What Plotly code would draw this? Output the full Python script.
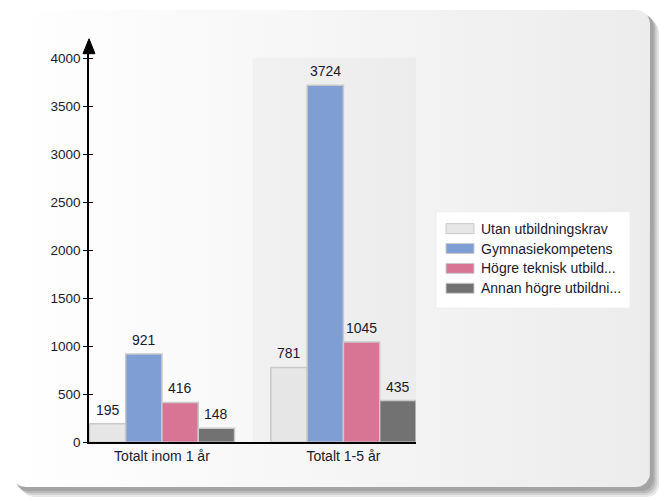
import numpy as np
import plotly.graph_objects as go

# ---- data -------------------------------------------------------------
categories = ["Totalt inom 1 år", "Totalt 1-5 år"]
series_names = [
    "Utan utbildningskrav",
    "Gymnasiekompetens",
    "Högre teknisk utbild...",
    "Annan högre utbildni...",
]
utan_utbildningskrav = [195, 781]
gymnasiekompetens = [921, 3724]
hogre_teknisk = [416, 1045]
annan_hogre = [148, 435]
series_values = [utan_utbildningskrav, gymnasiekompetens, hogre_teknisk, annan_hogre]
y_tick_values = [0, 500, 1000, 1500, 2000, 2500, 3000, 3500, 4000]

# ---- styling ----------------------------------------------------------
W = 665
FIG_H = 508          # figure height
H = 501              # layout frame used for placing decorations
FONT = "Liberation Sans, Arial, sans-serif"
TEXT = "#1a1a2e"
bar_colors = ["#e6e6e6", "#7f9fd4", "#d97594", "#727272"]
edge_color = "#c9c9c9"

# plot area in frame units
PL, PR, PT, PB = 89, 416, 52, 443
Y_TOP = 4000 * (PB - PT) / (PB - 57)     # axis runs a little past 4000 for the arrow
X_RANGE = [-0.402, 1.40]
BARGAP = 0.2
BAR_W = (1 - BARGAP) / len(series_values)


def rr_points(x0, y0, x1, y1, r, n=10):
    """Outline of a rounded rectangle as point lists."""
    xs, ys = [], []
    corners = [
        (x1 - r, y0 + r, -90, 0),
        (x1 - r, y1 - r, 0, 90),
        (x0 + r, y1 - r, 90, 180),
        (x0 + r, y0 + r, 180, 270),
    ]
    for cx, cy, a0, a1 in corners:
        for a in np.linspace(np.radians(a0), np.radians(a1), n):
            xs.append(cx + r * np.cos(a))
            ys.append(cy + r * np.sin(a))
    xs.append(xs[0])
    ys.append(ys[0])
    return xs, ys


def rr_path(x0, y0, x1, y1, r):
    return (f"M{x0+r},{y0} L{x1-r},{y0} Q{x1},{y0} {x1},{y0+r} "
            f"L{x1},{y1-r} Q{x1},{y1} {x1-r},{y1} L{x0+r},{y1} "
            f"Q{x0},{y1} {x0},{y1-r} L{x0},{y0+r} Q{x0},{y0} {x0+r},{y0} Z")


fig = go.Figure()

# background card with a soft horizontal gradient
px_, py_ = rr_points(12, 8, 650, 488, 14)
fig.add_trace(go.Scatter(
    x=px_, y=py_, mode="lines", fill="toself", line=dict(width=0),
    fillgradient=dict(type="horizontal",
                      colorscale=[[0, "#ffffff"], [1, "#ececec"]]),
    hoverinfo="skip", showlegend=False, xaxis="x", yaxis="y",
))

# grouped bars
for name, vals, col in zip(series_names, series_values, bar_colors):
    fig.add_trace(go.Bar(
        name=name, x=categories, y=vals,
        marker=dict(color=col, line=dict(color=edge_color, width=1.5)),
        showlegend=False, xaxis="x2", yaxis="y2",
    ))

# helper trace so the inner tick axis is drawn
fig.add_trace(go.Scatter(x=[], y=[], xaxis="x2", yaxis="y3",
                         showlegend=False, hoverinfo="skip"))

annotations = []
# value labels above each bar
for s, vals in enumerate(series_values):
    offset = (s - (len(series_values) - 1) / 2) * BAR_W
    for c, v in enumerate(vals):
        annotations.append(dict(
            x=c + offset, y=v, xref="x2", yref="y2", text=str(v), showarrow=False,
            xanchor="center", yanchor="bottom", yshift=4,
            font=dict(family=FONT, size=14, color=TEXT)))

shapes = []
# card shadow
for off, col in [(10, "#e6e6e6"), (8, "#d0d0d0"), (6, "#b8b8b8"), (4, "#a4a4a4")]:
    shapes.append(dict(type="path", path=rr_path(12 + off, 8 + off, 650 + off * 0.9, 488 + off, 14),
                       xref="x", yref="y", fillcolor=col, line=dict(width=0), layer="below"))

# shaded band behind the second category
shapes.append(dict(type="rect", xref="x2", yref="y2", x0=0.5, x1=1.6, y0=0, y1=4010,
                   fillcolor="rgba(0,0,0,0.028)", line=dict(width=0), layer="below"))

# arrow head on the value axis
shapes.append(dict(type="path", xref="x", yref="y",
                   path=f"M{PL-6},{PT} L{PL+6},{PT} L{PL},{PT-15} Z",
                   fillcolor="black", line=dict(color="black", width=1)))

# legend box
LX0, LY0, LX1, LY1 = 436, 211, 630, 308
shapes.append(dict(type="rect", xref="x", yref="y", x0=LX0, y0=LY0, x1=LX1, y1=LY1,
                   fillcolor="white", line=dict(color="#eeeeee", width=1)))
for i, (name, col) in enumerate(zip(series_names, bar_colors)):
    cy = 228 + 20 * i
    shapes.append(dict(type="rect", xref="x", yref="y", x0=446, x1=474, y0=cy - 5, y1=cy + 5,
                       fillcolor=col, line=dict(color=edge_color, width=1)))
    annotations.append(dict(x=479, y=cy, xref="x", yref="y", text=name, showarrow=False,
                            xanchor="left", yanchor="middle",
                            font=dict(family=FONT, size=14, color=TEXT)))

fig.update_layout(
    width=W, height=FIG_H, autosize=False, margin=dict(l=0, r=0, t=0, b=0),
    paper_bgcolor="white", plot_bgcolor="rgba(0,0,0,0)",
    barmode="group", bargap=BARGAP, bargroupgap=0,
    shapes=shapes, annotations=annotations, showlegend=False,
    xaxis=dict(domain=[0, 1], range=[0, W], visible=False, fixedrange=True),
    yaxis=dict(domain=[0, 1], range=[H, 0], visible=False, fixedrange=True),
    xaxis2=dict(domain=[PL / W, PR / W], range=X_RANGE, anchor="y2",
                showline=True, linecolor="black", linewidth=1.5,
                showgrid=False, ticks="",
                tickfont=dict(family=FONT, size=14, color=TEXT)),
    yaxis2=dict(domain=[(H - PB) / H, (H - PT) / H], range=[0, Y_TOP], anchor="x2",
                showline=True, linecolor="black", linewidth=1.5,
                showgrid=False, zeroline=False,
                tickmode="array", tickvals=y_tick_values,
                ticks="outside", ticklen=4, tickwidth=1, tickcolor="black",
                tickfont=dict(family=FONT, size=13.5, color=TEXT)),
    yaxis3=dict(overlaying="y2", anchor="x2", range=[0, Y_TOP],
                tickmode="array", tickvals=y_tick_values,
                ticks="inside", ticklen=4, tickwidth=1, tickcolor="black",
                showticklabels=False, showgrid=False, zeroline=False, showline=False),
)

fig.write_html("out.html", config={"responsive": False, "displayModeBar": False})
